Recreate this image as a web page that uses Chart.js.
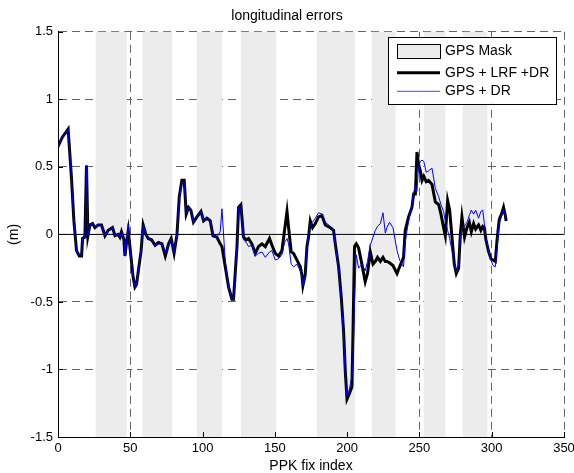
<!DOCTYPE html>
<html>
<head>
<meta charset="utf-8">
<script src="https://cdn.jsdelivr.net/npm/chart.js@4/dist/chart.umd.min.js"></script>
<style>
  body { margin: 0; background: #fff; }
  canvas { display: block; }
</style>
</head>
<body>
<canvas id="myChart" width="574" height="473"></canvas>
<script>
// fix index (x) and the two error series
var fixIndex = [0, 3, 7, 9.3, 11, 12.8, 14.7, 16.3, 17, 18.6, 19.7, 20.7, 22.1, 23.9, 25.5, 27.8, 30.1, 32.5, 34.7, 37.7,
  39.4, 41.6, 42.8, 43.9, 45.6, 46.3, 47.4, 48.6, 50.2, 52, 53.2, 54.3, 56.2, 57.4, 58.9, 60.8, 62.4, 64.7, 67.2, 69.5,
  71.9, 74.2, 76.5, 78.3, 80.3, 82.3, 83.9, 85.7, 87.3, 88.7, 90.3, 91.9, 93.7, 96.1, 98.9, 100.7, 103, 105.3, 107.2, 109.9,
  112.2, 113.4, 115.7, 118, 120.3, 121.4, 123.8, 124.9, 126.5, 128.3, 130.2, 131.8, 134.1, 136.4, 138.7, 141.1, 143.4, 146.3, 148, 150.3,
  152.6, 154.9, 156.7, 158.4, 159.5, 161.3, 162.9, 165.3, 167.6, 168.7, 169.4, 171, 172.2, 173.3, 174.5, 176.1, 178, 180.2, 182.6, 184.9,
  188.3, 190.6, 191.8, 194.1, 195.9, 197.5, 198.7, 199.9, 201.5, 203.3, 204, 205.1, 206.3, 207.9, 210.2, 212.5, 214.1, 216, 217.9, 219.5,
  221, 223, 224.8, 226.4, 227.5, 229.3, 231.7, 234.5, 236.3, 239, 240.2, 242.5, 244.8, 246, 247.2, 248.3, 249.4, 250.6, 251.8, 253,
  254.7, 256.3, 258.7, 261, 263.3, 264.9, 266.7, 267.9, 269.5, 270.9, 272.5, 274.1, 275.5, 277.1, 278.3, 279.4, 281.2, 282.9, 284.5, 285.9,
  287.5, 288.9, 290.9, 292.5, 293.8, 294.9, 296, 297.9, 299.5, 300.9, 302.5, 303.7, 305.2, 307.1, 308.2, 309.4, 310];

var lrfDr = [0.65, 0.72, 0.78, 0.42, 0.10, -0.12, -0.16, -0.16, -0.03, -0.02, 0.51, -0.01, 0.07, 0.08, 0.05, 0.07, 0.07, -0.01, 0.03, 0.05,
  -0.01, 0.0, -0.02, 0.02, -0.04, -0.16, -0.06, 0.03, -0.14, -0.32, -0.39, -0.37, -0.22, -0.13, 0.07, 0.0, -0.03, -0.04, -0.08, -0.06,
  -0.07, -0.16, -0.07, -0.03, -0.14, 0.0, 0.28, 0.40, 0.40, 0.15, 0.20, 0.18, 0.09, 0.13, 0.17, 0.10, 0.12, 0.10, -0.01, -0.02,
  -0.07, -0.09, -0.24, -0.39, -0.48, -0.48, -0.09, 0.20, 0.22, -0.02, -0.04, -0.03, -0.07, -0.14, -0.09, -0.07, -0.09, -0.03, -0.08, -0.14,
  -0.16, -0.12, 0.03, 0.17, 0.05, -0.13, -0.14, -0.19, -0.24, -0.30, -0.38, -0.30, -0.09, -0.02, 0.10, 0.05, 0.08, 0.13, 0.14, 0.07,
  0.05, 0.03, -0.07, -0.24, -0.46, -0.71, -1.01, -1.22, -1.18, -1.13, -0.76, -0.09, -0.07, -0.10, -0.22, -0.35, -0.29, -0.13, -0.22, -0.20,
  -0.17, -0.20, -0.17, -0.20, -0.20, -0.21, -0.23, -0.29, -0.24, -0.17, 0.03, 0.13, 0.20, 0.30, 0.30, 0.61, 0.52, 0.47, 0.40, 0.43,
  0.39, 0.40, 0.37, 0.24, 0.22, 0.15, 0.05, -0.01, 0.25, 0.18, -0.02, -0.22, -0.29, -0.25, 0.0, 0.13, -0.02, 0.05, 0.09, 0.02,
  0.08, 0.04, 0.07, 0.03, 0.06, 0.05, -0.04, -0.13, -0.18, -0.19, -0.20, -0.04, 0.11, 0.16, 0.20, 0.14, 0.10];

var gpsDr = [0.65, 0.72, 0.78, 0.42, 0.10, -0.12, -0.16, -0.16, -0.03, -0.02, 0.51, -0.01, 0.07, 0.08, 0.05, 0.07, 0.07, -0.01, 0.03, 0.05,
  -0.01, 0.0, -0.02, 0.02, -0.04, -0.16, -0.06, 0.08, -0.14, -0.32, -0.39, -0.37, -0.22, -0.13, 0.07, 0.0, -0.03, -0.04, -0.08, -0.07,
  -0.07, -0.14, -0.07, -0.03, -0.14, 0.0, 0.26, 0.39, 0.38, 0.15, 0.20, 0.18, 0.09, 0.13, 0.17, 0.10, 0.12, 0.10, -0.01, -0.02,
  0.02, 0.19, -0.20, -0.39, -0.48, -0.49, -0.09, 0.20, 0.21, -0.04, -0.06, -0.09, -0.08, -0.16, -0.14, -0.13, -0.17, -0.13, -0.12, -0.19,
  -0.18, -0.15, -0.06, -0.03, -0.07, -0.22, -0.24, -0.22, -0.27, -0.31, -0.38, -0.31, -0.11, -0.03, 0.08, 0.09, 0.12, 0.16, 0.15, 0.09,
  0.06, 0.04, -0.08, -0.26, -0.48, -0.74, -1.05, -1.20, -1.15, -1.05, -0.95, -0.50, -0.15, -0.25, -0.22, -0.27, -0.20, -0.08, -0.02, 0.03,
  0.06, 0.08, 0.16, 0.01, 0.05, 0.09, 0.05, -0.12, -0.19, -0.24, -0.05, 0.10, 0.22, 0.31, 0.36, 0.32, 0.50, 0.54, 0.55, 0.54,
  0.46, 0.47, 0.49, 0.34, 0.28, 0.22, 0.17, 0.10, 0.03, -0.03, -0.12, -0.22, -0.28, -0.24, -0.04, 0.05, 0.06, 0.09, 0.14, 0.18,
  0.15, 0.18, 0.12, 0.17, 0.18, 0.08, -0.02, -0.12, -0.19, -0.23, -0.24, -0.10, 0.08, 0.15, 0.18, 0.15, 0.11];

// GPS mask intervals (start / end fix index)
var maskStart = [26, 58.5, 96, 126.5, 179, 217, 253, 280];
var maskEnd = [47.5, 79, 113.5, 151, 205.5, 233.5, 268, 297];

var xTicks = [0, 50, 100, 150, 200, 250, 300, 350];
var yTicks = [-1.5, -1, -0.5, 0, 0.5, 1, 1.5];

var legendLabels = ['GPS Mask', 'GPS + LRF +DR', 'GPS + DR'];

function toPoints(xs, ys) {
  var pts = [];
  for (var i = 0; i < xs.length; i++) {
    pts.push({x: xs[i], y: ys[i]});
  }
  return pts;
}

var maskColor = 'rgb(236,236,236)';
var font = '"Liberation Sans", Arial, sans-serif';

// grey mask bands, inward ticks and boxed legend
var maskPlugin = {
  id: 'maskPlugin',
  beforeDatasetsDraw: function(chart) {
    var ctx = chart.ctx;
    var area = chart.chartArea;
    var xs = chart.scales.x;
    ctx.save();
    ctx.fillStyle = maskColor;
    for (var i = 0; i < maskStart.length; i++) {
      var x1 = xs.getPixelForValue(maskStart[i]);
      var x2 = xs.getPixelForValue(maskEnd[i]);
      ctx.fillRect(x1, area.top, x2 - x1, area.bottom - area.top);
    }
    ctx.restore();
  },
  afterDatasetsDraw: function(chart) {
    var ctx = chart.ctx;
    var area = chart.chartArea;
    var xs = chart.scales.x;
    var ys = chart.scales.y;
    ctx.save();
    ctx.strokeStyle = '#000';
    ctx.lineWidth = 1;
    ctx.beginPath();
    for (var i = 0; i < xTicks.length; i++) {
      var px = Math.round(xs.getPixelForValue(xTicks[i])) + 0.5;
      ctx.moveTo(px, area.bottom);
      ctx.lineTo(px, area.bottom - 5);
    }
    for (var j = 0; j < yTicks.length; j++) {
      var py = Math.round(ys.getPixelForValue(yTicks[j])) + 0.5;
      ctx.moveTo(area.left, py);
      ctx.lineTo(area.left + 5, py);
    }
    ctx.stroke();

    // legend box
    var bx = area.right - 176;
    var by = area.top + 5;
    var bw = 168;
    var bh = 67;
    ctx.fillStyle = '#fff';
    ctx.fillRect(bx, by, bw, bh);
    ctx.strokeRect(Math.round(bx) + 0.5, Math.round(by) + 0.5, bw, bh);

    var sx = bx + 9;
    ctx.fillStyle = maskColor;
    ctx.fillRect(sx, by + 7, 43, 14);
    ctx.strokeStyle = '#000';
    ctx.strokeRect(Math.round(sx) + 0.5, Math.round(by + 7) + 0.5, 43, 14);

    ctx.lineWidth = 3;
    ctx.beginPath();
    ctx.moveTo(sx, by + 36);
    ctx.lineTo(sx + 43, by + 36);
    ctx.stroke();

    ctx.strokeStyle = 'rgb(70,70,255)';
    ctx.lineWidth = 1;
    ctx.beginPath();
    ctx.moveTo(sx, by + 54.5);
    ctx.lineTo(sx + 43, by + 54.5);
    ctx.stroke();

    ctx.fillStyle = '#000';
    ctx.font = '14px ' + font;
    ctx.textBaseline = 'middle';
    ctx.fillText(legendLabels[0], sx + 48, by + 14.5);
    ctx.fillText(legendLabels[1], sx + 48, by + 36);
    ctx.fillText(legendLabels[2], sx + 48, by + 54.5);
    ctx.restore();
  }
};

var ctx = document.getElementById('myChart').getContext('2d');

var myChart = new Chart(ctx, {
  type: 'line',
  data: {
    datasets: [
      {
        label: legendLabels[2],
        data: toPoints(fixIndex, gpsDr),
        borderColor: 'rgb(0,0,255)',
        borderWidth: 1,
        pointRadius: 0,
        tension: 0
      },
      {
        label: legendLabels[1],
        data: toPoints(fixIndex, lrfDr),
        borderColor: '#000',
        borderWidth: 3,
        pointRadius: 0,
        tension: 0
      },
      {
        label: 'zero',
        data: [{x: 0, y: 0}, {x: 350, y: 0}],
        borderColor: '#000',
        borderWidth: 1,
        pointRadius: 0
      }
    ]
  },
  plugins: [maskPlugin],
  options: {
    responsive: false,
    devicePixelRatio: 1,
    animation: false,
    events: [],
    plugins: {
      legend: { display: false },
      tooltip: { enabled: false },
      title: {
        display: true,
        text: 'longitudinal errors',
        color: '#000',
        font: { family: font, size: 14, weight: 'normal', lineHeight: 1.2 },
        padding: { top: 8, bottom: 7 }
      }
    },
    scales: {
      x: {
        type: 'linear',
        min: 0,
        max: 350,
        afterBuildTicks: function(scale) {
          scale.ticks = xTicks.map(function(v) { return {value: v}; });
        },
        afterFit: function(scale) {
          scale.height = 36;
          scale.paddingRight = 10;
        },
        grid: { color: 'rgb(100,100,100)', lineWidth: 1, drawTicks: false },
        border: { display: true, color: '#000', width: 1, dash: [8, 5] },
        ticks: { color: '#000', font: { family: font, size: 13 }, padding: 4, maxRotation: 0 },
        title: {
          display: true,
          text: 'PPK fix index',
          color: '#000',
          font: { family: font, size: 14, lineHeight: 1 },
          padding: { top: 0, bottom: 0 }
        }
      },
      y: {
        min: -1.5,
        max: 1.5,
        afterBuildTicks: function(scale) {
          scale.ticks = yTicks.map(function(v) { return {value: v}; });
        },
        afterFit: function(scale) { scale.width = 58; },
        grid: { color: 'rgb(100,100,100)', lineWidth: 1, drawTicks: false },
        border: { display: true, color: '#000', width: 1, dash: [8, 5] },
        ticks: {
          color: '#000',
          font: { family: font, size: 13 },
          padding: 5,
          callback: function(value) { return String(value); }
        },
        title: {
          display: true,
          text: '(m)',
          color: '#000',
          font: { family: font, size: 14, lineHeight: 1.2 },
          padding: { top: 6, bottom: 0 }
        }
      }
    }
  }
});
</script>
</body>
</html>
